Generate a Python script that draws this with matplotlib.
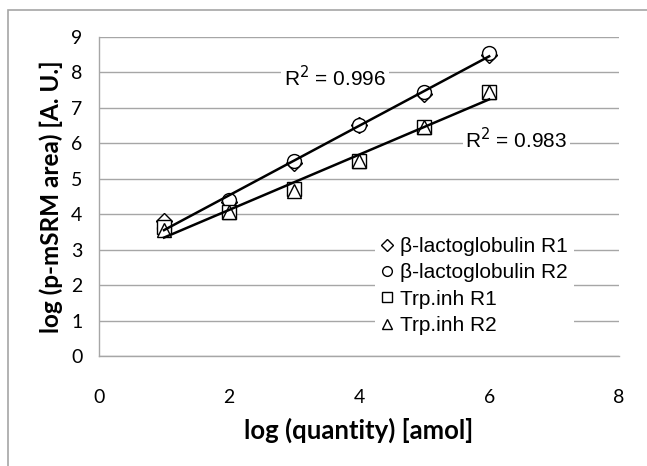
import matplotlib
matplotlib.use("Agg")
import matplotlib.pyplot as plt
import numpy as np
from matplotlib.patches import Rectangle

# --- data
quantity = [1, 2, 3, 4, 5, 6]
blg_r1 = [3.8, 4.35, 5.45, 6.5, 7.4, 8.5]
blg_r2 = [3.6, 4.4, 5.5, 6.5, 7.45, 8.55]
trp_r1 = [3.65, 4.05, 4.7, 5.5, 6.45, 7.45]
trp_r2 = [3.55, 4.05, 4.65, 5.5, 6.45, 7.45]
labels = ["β-lactoglobulin R1", "β-lactoglobulin R2", "Trp.inh R1", "Trp.inh R2"]
r2_labels = ["0.996", "0.983"]

plt.rcParams["font.family"] = ["Lato", "DejaVu Sans"]

fig = plt.figure(figsize=(6.47, 4.66), dpi=100)
ax = fig.add_axes([0.153, 0.236, 0.804, 0.685])

# outer chart border (only top / left edges are inside the picture)
fig.patches.append(Rectangle((8 / 647, -0.1), 1.2, (466 - 10) / 466 + 0.1,
                             transform=fig.transFigure, fill=False,
                             edgecolor="#a6a6a6", linewidth=1.2))

mk = dict(linestyle="none", markerfacecolor="white", markeredgecolor="black",
          markeredgewidth=1.0, zorder=3)
ax.plot(quantity, blg_r1, marker="D", markersize=8.5, label=labels[0], **mk)
ax.plot(quantity, blg_r2, marker="o", markersize=10, label=labels[1], **mk)
ax.plot(quantity, trp_r1, marker="s", markersize=9.5, label=labels[2], **mk)
ax.plot(quantity, trp_r2, marker="^", markersize=10, label=labels[3], **mk)

# linear trendlines on the replicate means
x = np.array(quantity, dtype=float)
for a, b in [(blg_r1, blg_r2), (trp_r1, trp_r2)]:
    y = (np.array(a) + np.array(b)) / 2
    k, c = np.polyfit(x, y, 1)
    ax.plot(x[[0, -1]], k * x[[0, -1]] + c, color="black", linewidth=1.8, zorder=4)

bbox = dict(facecolor="white", edgecolor="none", pad=2)
ax.text(3.63, 7.85, "R$^2$ = " + r2_labels[0], ha="center", va="center",
        fontsize=15, family="Liberation Sans", bbox=bbox, zorder=5)
ax.text(6.42, 6.1, "R$^2$ = " + r2_labels[1], ha="center", va="center",
        fontsize=15, family="Liberation Sans", bbox=bbox, zorder=5)

ax.set_xlim(0, 8)
ax.set_ylim(0, 9)
ax.set_xticks([0, 2, 4, 6, 8])
ax.set_yticks(range(10))
ax.grid(axis="y", color="#a6a6a6", linewidth=1.0)
ax.set_axisbelow(True)
for s in ["top", "right"]:
    ax.spines[s].set_visible(False)
for s in ["left", "bottom"]:
    ax.spines[s].set_color("#a6a6a6")
    ax.spines[s].set_linewidth(1.0)
ax.tick_params(length=0, labelsize=14)
ax.tick_params(axis="y", pad=12)
ax.tick_params(axis="x", pad=24)

ax.set_xlabel("log (quantity) [amol]", fontsize=18.5, fontweight="bold", labelpad=8)
ax.set_ylabel("log (p-mSRM area) [A. U.]", fontsize=17.5, fontweight="bold", labelpad=6)

leg = ax.legend(loc="upper left", bbox_to_anchor=(0.51, 0.425), frameon=True,
                fancybox=False, prop={"family": "Liberation Sans", "size": 15},
                markerscale=0.7, handlelength=0.6, handletextpad=0.3,
                labelspacing=0.35, borderpad=0.3)
leg.get_frame().set_facecolor("white")
leg.get_frame().set_edgecolor("none")
leg.get_frame().set_alpha(1)
leg.set_zorder(6)

fig.savefig("out.png", dpi=100)
